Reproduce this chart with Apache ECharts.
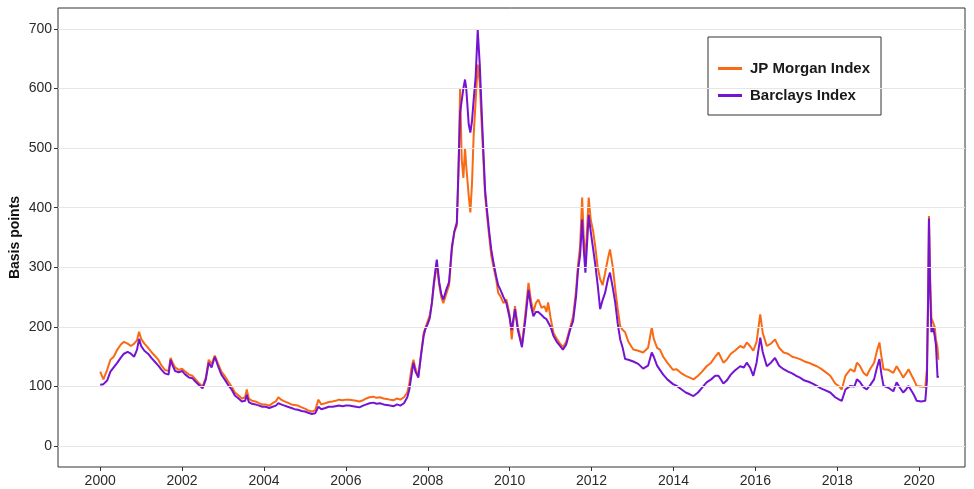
<!DOCTYPE html>
<html><head><meta charset="utf-8">
<script src="https://cdn.jsdelivr.net/npm/echarts@6/dist/echarts.min.js"></script>
<style>html,body{margin:0;padding:0;background:#fff}#c{width:974px;height:489px}</style>
</head><body><div id="c"></div>
<script>
const seriesNames = ['JP Morgan Index', 'Barclays Index'];
const yTicks = [0, 100, 200, 300, 400, 500, 600, 700];
const xTicks = [2000, 2002, 2004, 2006, 2008, 2010, 2012, 2014, 2016, 2018, 2020];
const dates = [
2000.00,2000.08,2000.17,2000.25,2000.33,2000.42,2000.50,2000.58,2000.67,2000.75,2000.83,2000.90,2000.95,
2001.00,2001.08,2001.17,2001.25,2001.33,2001.42,2001.50,2001.58,2001.67,2001.72,2001.77,2001.83,2001.92,
2002.00,2002.08,2002.17,2002.25,2002.33,2002.42,2002.50,2002.58,2002.65,2002.72,2002.80,2002.88,2002.96,
2003.04,2003.13,2003.21,2003.29,2003.38,2003.46,2003.54,2003.58,2003.63,2003.71,2003.79,2003.88,2003.96,
2004.04,2004.13,2004.21,2004.29,2004.35,2004.42,2004.50,2004.58,2004.67,2004.75,2004.83,2004.92,
2005.00,2005.08,2005.17,2005.25,2005.33,2005.40,2005.50,2005.58,2005.67,2005.75,2005.83,2005.92,
2006.00,2006.08,2006.17,2006.25,2006.33,2006.42,2006.50,2006.58,2006.67,2006.75,2006.83,2006.92,
2007.00,2007.08,2007.17,2007.25,2007.33,2007.42,2007.50,2007.55,2007.60,2007.65,2007.70,2007.77,2007.83,2007.90,2007.94,
2008.00,2008.05,2008.10,2008.15,2008.22,2008.28,2008.33,2008.38,2008.45,2008.52,2008.59,2008.65,2008.71,2008.75,2008.79,2008.83,2008.87,2008.91,2008.94,
2009.00,2009.04,2009.08,2009.12,2009.17,2009.22,2009.27,2009.33,2009.40,2009.44,2009.50,2009.55,2009.60,2009.67,2009.72,2009.77,2009.85,2009.92,
2010.00,2010.05,2010.13,2010.20,2010.30,2010.38,2010.46,2010.52,2010.58,2010.64,2010.70,2010.78,2010.85,2010.90,2010.94,
2011.00,2011.07,2011.15,2011.23,2011.30,2011.38,2011.48,2011.55,2011.62,2011.67,2011.72,2011.77,2011.81,2011.85,2011.93,2011.98,
2012.04,2012.09,2012.15,2012.21,2012.27,2012.33,2012.40,2012.45,2012.52,2012.58,2012.64,2012.70,2012.76,2012.82,2012.90,
2013.02,2013.14,2013.26,2013.38,2013.47,2013.52,2013.60,2013.67,2013.75,2013.85,2013.99,
2014.08,2014.20,2014.30,2014.40,2014.49,2014.60,2014.70,2014.81,2014.92,
2015.02,2015.10,2015.22,2015.30,2015.40,2015.50,2015.63,2015.72,2015.79,2015.87,2015.95,
2016.03,2016.12,2016.18,2016.28,2016.38,2016.48,2016.58,2016.69,2016.80,2016.90,
2017.00,2017.09,2017.20,2017.30,2017.40,2017.50,2017.60,2017.70,2017.83,2017.95,
2018.05,2018.11,2018.20,2018.32,2018.42,2018.48,2018.55,2018.64,2018.72,2018.80,2018.90,2018.97,
2019.03,2019.08,2019.13,2019.25,2019.37,2019.45,2019.53,2019.61,2019.68,2019.74,2019.82,2019.88,2019.94,
2020.05,2020.15,2020.19,2020.22,2020.24,2020.27,2020.30,2020.34,2020.38,2020.41,2020.45,2020.47
];
const jpm = [
125,112,128,145,150,162,170,175,172,168,172,178,192,
180,172,165,158,152,145,135,128,126,148,140,132,128,
130,125,120,118,112,105,100,115,145,138,152,138,125,
118,108,100,90,85,80,82,95,80,76,75,72,70,
70,68,72,75,82,78,75,73,70,69,68,65,
63,60,58,60,78,70,72,74,75,76,78,77,
78,78,77,76,75,77,80,82,83,81,82,80,
79,78,77,80,78,82,90,105,130,145,130,118,150,190,198,
210,220,240,270,305,270,250,240,255,270,330,360,370,460,600,480,450,500,470,
420,392,440,520,580,640,610,520,420,392,352,320,302,280,257,252,240,246,
220,179,235,200,170,220,274,245,225,240,246,232,235,225,241,
215,190,180,172,166,175,200,218,260,305,335,417,350,310,417,380,
360,335,300,280,270,290,315,330,300,263,230,201,195,191,175,
162,160,157,165,199,180,165,162,150,140,128,
129,122,118,115,112,118,125,134,140,
150,157,140,145,155,160,168,165,174,168,160,
175,221,190,168,172,179,165,157,155,150,
148,146,142,140,137,134,130,125,118,105,
100,95,118,129,125,140,135,123,118,129,140,160,
174,150,129,128,123,134,125,115,122,129,118,110,101,
100,99,130,260,386,280,215,216,200,179,165,145
];
const barc = [
103,104,110,125,132,140,148,155,158,155,150,162,180,
168,160,155,148,142,135,128,122,120,145,135,126,124,
126,120,115,114,108,102,97,112,140,132,150,134,120,
112,102,95,85,80,75,76,86,74,71,70,68,66,
66,64,66,68,72,70,68,66,64,62,61,59,
58,56,54,55,66,62,64,66,66,67,68,67,
68,68,67,66,65,68,70,72,73,71,72,70,
69,68,67,70,68,72,82,95,118,140,125,115,150,185,196,
205,215,240,275,313,275,255,246,262,275,335,360,375,464,560,580,600,615,600,
540,526,545,580,620,698,640,540,430,400,360,330,310,285,270,263,250,240,
215,195,230,195,166,210,262,235,218,225,225,220,215,213,215,
200,185,175,168,162,170,196,210,250,295,320,380,330,291,388,360,
330,305,270,230,245,257,280,291,265,240,205,179,165,146,145,
142,138,130,135,157,150,135,128,120,112,104,
101,95,90,87,84,90,98,107,112,
118,118,105,110,120,127,134,132,140,132,118,
140,182,158,134,140,148,135,129,125,122,
118,115,110,108,105,101,97,94,90,82,
78,76,95,101,100,112,108,99,95,102,112,132,
146,120,101,98,92,107,98,90,95,101,92,85,76,
75,76,110,250,382,260,191,200,185,170,115,118
];

const chart = echarts.init(document.getElementById('c'));
const FONT = 'Liberation Sans, Arial, sans-serif';
chart.setOption({
  animation: false,
  backgroundColor: '#fff',
  grid: { left: 58, right: 9, top: 8, bottom: 22, show: true, borderColor: '#333', borderWidth: 1, backgroundColor: 'transparent', containLabel: false, outerBoundsMode: 'none' },
  legend: {
    data: seriesNames,
    orient: 'vertical',
    left: 708, top: 37,
    padding: [23, 11, 11, 10],
    itemGap: 10,
    itemWidth: 24, itemHeight: 3,
    icon: 'rect',
    borderColor: '#333', borderWidth: 1,
    backgroundColor: '#fff',
    textStyle: { fontFamily: FONT, fontSize: 15, fontWeight: 'bold', color: '#1a1a1a', lineHeight: 17, padding: [0, 0, 0, 3] }
  },
  xAxis: {
    type: 'value', min: 1998.97, max: 2021.12,
    axisLine: { show: false, onZero: false },
    axisTick: { show: true, length: 4, lineStyle: { color: '#333' }, customValues: xTicks },
    axisLabel: { customValues: xTicks, fontFamily: FONT, fontSize: 14, color: '#2a2a2a', margin: 7, formatter: v => String(Math.round(v)) },
    splitLine: { show: false }
  },
  yAxis: {
    type: 'value', min: -35, max: 735,
    name: 'Basis points', nameLocation: 'middle', nameGap: 36, nameRotate: 90, nameMoveOverlap: false,
    nameTextStyle: { fontFamily: FONT, fontSize: 14, fontWeight: 'bold', color: '#111' },
    axisLine: { show: false, onZero: false },
    axisTick: { show: true, length: 4, lineStyle: { color: '#333' }, customValues: yTicks },
    axisLabel: { customValues: yTicks, fontFamily: FONT, fontSize: 14, color: '#2a2a2a', margin: 6 },
    splitLine: { show: false }
  },
  series: [
    {
      name: '_grid', type: 'line', data: [], z: 0, silent: true, symbol: 'none',
      markLine: { silent: true, symbol: 'none', label: { show: false }, animation: false,
        lineStyle: { color: '#e6e6e6', width: 1, type: 'solid' },
        data: yTicks.map(v => ({ yAxis: v })) }
    },
    {
      name: seriesNames[0], type: 'line', symbol: 'none', showSymbol: false, z: 2,
      data: dates.map((d, i) => [d, jpm[i]]),
      lineStyle: { color: '#fa6a14', width: 2 }, itemStyle: { color: '#fa6a14' }
    },
    {
      name: seriesNames[1], type: 'line', symbol: 'none', showSymbol: false, z: 3,
      data: dates.map((d, i) => [d, barc[i]]),
      lineStyle: { color: '#7414d2', width: 2 }, itemStyle: { color: '#7414d2' }
    }
  ]
});
</script></body></html>
